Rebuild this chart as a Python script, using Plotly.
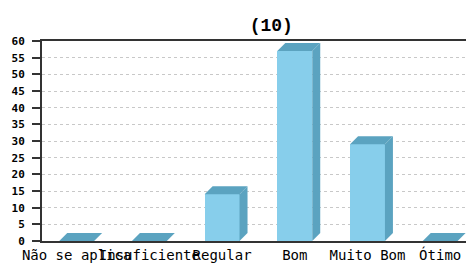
import plotly.graph_objects as go

categories = ["Não se aplica", "Insuficiente", "Regular", "Bom", "Muito Bom", "Ótimo"]
values = [0, 0, 14, 57, 29, 0]
y_ticks = list(range(0, 61, 5))
title_text = "(10)"

FRONT = "#87CEEB"
SIDE = "#5BA3C0"
half_w = 0.24
dx = 0.11   # 3D depth in category units
dy = 2.4    # 3D depth in value units

fig = go.Figure()
xs = list(range(len(categories)))

fig.add_trace(go.Bar(x=xs, y=values, width=2 * half_w, marker=dict(color=FRONT, line=dict(width=0)),
                     showlegend=False, hoverinfo="skip"))

for i, v in enumerate(values):
    # top face
    fig.add_trace(go.Scatter(
        x=[i - half_w, i + half_w, i + half_w + dx, i - half_w + dx, i - half_w],
        y=[v, v, v + dy, v + dy, v],
        fill="toself", fillcolor=SIDE, mode="lines", line=dict(width=0, color=SIDE),
        showlegend=False, hoverinfo="skip"))
    if v > 0:
        # side face
        fig.add_trace(go.Scatter(
            x=[i + half_w, i + half_w + dx, i + half_w + dx, i + half_w, i + half_w],
            y=[0, dy, v + dy, v, 0],
            fill="toself", fillcolor=SIDE, mode="lines", line=dict(width=0, color=SIDE),
            showlegend=False, hoverinfo="skip"))

fig.update_layout(
    width=466, height=265,
    margin=dict(l=42, r=0, t=41, b=24, autoexpand=False),
    paper_bgcolor="white", plot_bgcolor="white",
    title=dict(text=title_text, x=252 / 466, xanchor="center", xref="paper", yref="container",
               y=1 - 25 / 265, yanchor="middle",
               font=dict(family="Liberation Mono", size=18, color="black", weight="bold")),
    xaxis=dict(range=[-0.477, 5.355], tickmode="array", tickvals=xs, ticktext=categories,
               tickangle=0, automargin=False,
               showgrid=False, zeroline=False, showline=True, linecolor="#333", linewidth=2,
               mirror=True, ticks="", tickfont=dict(family="DejaVu Sans Mono", size=14, color="black")),
    yaxis=dict(range=[0, 60], tickmode="array", tickvals=y_ticks, ticktext=[str(t) for t in y_ticks],
               automargin=False, ticklabelstandoff=5,
               showgrid=True, gridcolor="#c8c8c8", griddash="dot", gridwidth=1, zeroline=False,
               showline=True, linecolor="#333", linewidth=2, ticks="outside", ticklen=8,
               tickcolor="#333", tickwidth=2,
               tickfont=dict(family="DejaVu Sans Mono", size=11, color="black", weight="bold")),
    bargap=0,
)

fig.write_html("out.html", config={"displayModeBar": False},
               post_script="document.body.style.margin='0';document.body.style.overflow='hidden';")
